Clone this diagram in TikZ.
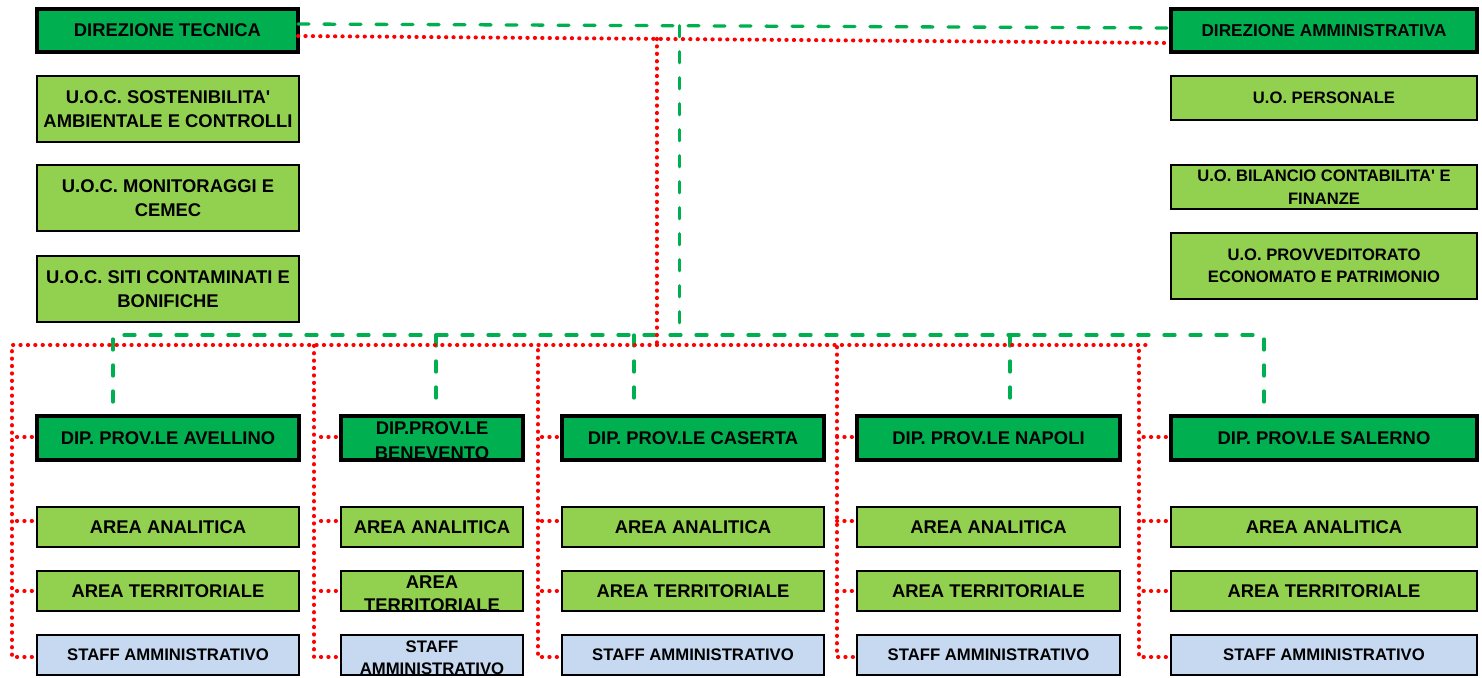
\documentclass[tikz,border=0pt]{standalone}
\usepackage{fontspec}
\setmainfont{Liberation Sans}[Ligatures=TeXOff]
\usetikzlibrary{calc}
\definecolor{dkg}{HTML}{00B050}
\definecolor{ltg}{HTML}{92D050}
\definecolor{ltb}{HTML}{C6D9F1}
\definecolor{rd}{HTML}{FF0000}
\tikzset{
 box/.style={draw=black, rectangle, inner sep=0pt, outer sep=0pt, align=center, text=black,
   font=\bfseries\fontsize{18.4}{24}\selectfont},
 topbox/.style={box, fill=dkg, line width=4pt},
 subbox/.style={box, fill=ltg, line width=2.2pt},
 staffbox/.style={box, fill=ltb, line width=2.2pt, font=\bfseries\fontsize{16.7}{22}\selectfont},
 uofont/.style={font=\bfseries\fontsize{16.6}{22.5}\selectfont},
 gline/.style={draw=dkg, line width=3.3pt, line cap=round, dash pattern=on 11pt off 15pt},
 rline/.style={draw=rd, line width=4pt, line cap=round, dash pattern=on 0.3pt off 7.1pt},
}
\newcommand{\bx}[7]{\node[#1, minimum width={#4-#2}, minimum height={#5-#3}] (#6) at ({(#2+#4)/2},{(#3+#5)/2}) {#7};}
\newcommand{\bxc}[8]{\node[#1, minimum width={#4-#2}, minimum height={#5-#3}] (#6) at ({(#2+#4)/2},{(#3+#5)/2}) {};
  \begin{scope}
    \clip ([xshift=1.5pt,yshift=-1.5pt]#6.north west) rectangle ([xshift=-1.5pt,yshift=1.5pt]#6.south east);
    \node[align=center, inner sep=0pt, text=black, font=#8] at ([yshift=-3pt]#6.center) {#7};
  \end{scope}}
\begin{document}
\begin{tikzpicture}[x=1pt,y=-1pt]
\useasboundingbox (0,0) rectangle (1482,677);
\coordinate (gbus) at (0,335);
\coordinate (rbus) at (0,345);
% left column
\bx{topbox}{37}{9}{298}{52}{dt}{DIREZIONE TECNICA}
\bx{subbox}{37}{76}{299}{142}{uoc1}{U.O.C. SOSTENIBILITA'\\AMBIENTALE E CONTROLLI}
\bx{subbox}{37}{165}{299}{231}{uoc2}{U.O.C. MONITORAGGI E\\CEMEC}
\bx{subbox}{37}{256}{299}{322}{uoc3}{U.O.C. SITI CONTAMINATI E\\BONIFICHE}
% right column
\bx{topbox,font=\bfseries\fontsize{17.2}{22}\selectfont}{1171}{9}{1477}{52}{da}{DIREZIONE AMMINISTRATIVA}
\bx{subbox,uofont}{1171}{76}{1477}{120}{uo1}{U.O. PERSONALE}
\bx{subbox,uofont}{1171}{165}{1477}{209}{uo2}{U.O. BILANCIO CONTABILITA' E\\FINANZE}
\bx{subbox,uofont}{1171}{233}{1477}{299}{uo3}{U.O. PROVVEDITORATO\\ECONOMATO E PATRIMONIO}
% departments
\bx{topbox}{37}{416}{299}{460}{dip1}{DIP. PROV.LE AVELLINO}
\bxc{topbox}{341}{416}{523}{460}{dip2}{DIP.PROV.LE\\BENEVENTO}{\bfseries\fontsize{18.4}{25}\selectfont}
\bx{topbox}{562}{416}{824}{460}{dip3}{DIP. PROV.LE CASERTA}
\bx{topbox}{857}{416}{1120}{460}{dip4}{DIP. PROV.LE NAPOLI}
\bx{topbox}{1171}{416}{1477}{460}{dip5}{DIP. PROV.LE SALERNO}
% areas
\bx{subbox}{37}{507}{299}{547}{an1}{AREA ANALITICA}
\bx{subbox}{341}{507}{523}{547}{an2}{AREA ANALITICA}
\bx{subbox}{562}{507}{824}{547}{an3}{AREA ANALITICA}
\bx{subbox}{857}{507}{1120}{547}{an4}{AREA ANALITICA}
\bx{subbox}{1171}{507}{1477}{547}{an5}{AREA ANALITICA}
\bx{subbox}{37}{571}{299}{611}{te1}{AREA TERRITORIALE}
\bxc{subbox}{341}{571}{523}{611}{te2}{AREA\\TERRITORIALE}{\bfseries\fontsize{18.4}{23}\selectfont}
\bx{subbox}{562}{571}{824}{611}{te3}{AREA TERRITORIALE}
\bx{subbox}{857}{571}{1120}{611}{te4}{AREA TERRITORIALE}
\bx{subbox}{1171}{571}{1477}{611}{te5}{AREA TERRITORIALE}
\bx{staffbox}{37}{635}{299}{675}{st1}{STAFF AMMINISTRATIVO}
\bxc{staffbox}{341}{635}{523}{675}{st2}{STAFF\\AMMINISTRATIVO}{\bfseries\fontsize{16.7}{22}\selectfont}
\bx{staffbox}{562}{635}{824}{675}{st3}{STAFF AMMINISTRATIVO}
\bx{staffbox}{857}{635}{1120}{675}{st4}{STAFF AMMINISTRATIVO}
\bx{staffbox}{1171}{635}{1477}{675}{st5}{STAFF AMMINISTRATIVO}
% green dashed hierarchy
\path ([yshift=6.5pt]dt.east) -- ([yshift=2.5pt]da.west) coordinate[pos=0.437] (gtop);
\draw[gline] ([yshift=6.5pt]dt.east) -- ([yshift=2.5pt]da.west);
\draw[gline] (gtop) -- (gtop |- gbus);
\coordinate (g1) at (113,402);
\coordinate (g2) at (436,402);
\coordinate (g3) at (634,405);
\coordinate (g4) at (1010,402);
\coordinate (g5) at (1264,402);
\draw[gline] (g1) -- (g1 |- gbus) -- (g5 |- gbus) -- (g5);
\draw[gline] (g2 |- gbus) -- (g2);
\draw[gline] (g3 |- gbus) -- (g3);
\draw[gline] (g4 |- gbus) -- (g4);
% red dotted hierarchy
\path ([yshift=-5.5pt]dt.east) -- ([yshift=-12.5pt]da.west) coordinate[pos=0.411] (rtop);
\draw[rline] ([yshift=-5.5pt]dt.east) -- ([yshift=-12.5pt]da.west);
\draw[rline] (rtop) -- (rtop |- rbus);
\draw[rline, shorten <=5pt] (st1.west |- 0,657) -- (12,657) -- (12,345) -- (1146,345);
\draw[rline, shorten <=5pt] (st2.west |- 0,657) -- (314,657) -- (314,345);
\draw[rline, shorten <=5pt] (st3.west |- 0,657) -- (538,657) -- (538,345);
\draw[rline, shorten <=4pt] (st4.west |- 0,657) -- (837,657) -- (837,345);
\draw[rline, shorten <=5pt] (st5.west |- 0,657) -- (1139,657) -- (1139,345);
\foreach \n/\vx in {1/12, 2/314, 3/538, 4/837, 5/1139}{
  \draw[rline, shorten <=5pt] (dip\n.west |- 0,437) -- (\vx,437);
  \draw[rline, shorten <=5pt] (an\n.west |- 0,521) -- (\vx,521);
  \draw[rline, shorten <=5pt] (te\n.west |- 0,591) -- (\vx,591);
}
\end{tikzpicture}
\end{document}
